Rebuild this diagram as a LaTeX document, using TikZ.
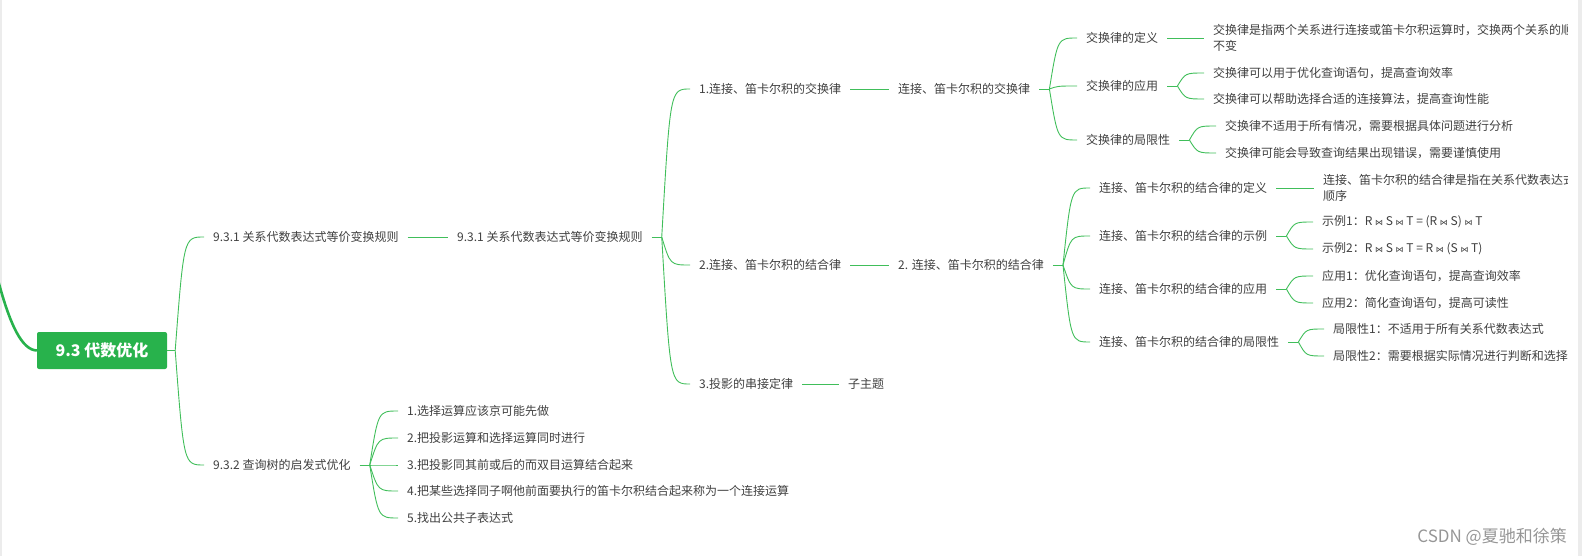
\documentclass[tikz,border=0pt]{standalone}
\usepackage{fontspec}
\setmainfont{Noto Sans CJK SC}
\newfontfamily\dejavu{DejaVu Sans}
\usetikzlibrary{calc}
\definecolor{lnk}{RGB}{64,190,90}
\definecolor{rootg}{RGB}{40,178,76}
\definecolor{txt}{RGB}{64,64,64}
\definecolor{edge}{RGB}{236,236,236}
\definecolor{wmark}{RGB}{150,150,150}
\newcommand\bowj{{\dejavu\fontsize{8}{8}\selectfont ⋈}}
\tikzset{
  t/.style={anchor=west, inner xsep=9pt, inner ysep=2pt, text=txt, font=\fontsize{12}{15.5}\selectfont},
  ln/.style={draw=lnk, line width=0.9pt},
  br/.style={to path={let \p1=(\tikztostart), \p2=(\tikztotarget) in .. controls ({\x1+0.3*(\x2-\x1)},{\y2}) .. (\tikztotarget)}},
}
\begin{document}
\begin{tikzpicture}[x=1pt,y=-1pt]
\useasboundingbox (0,0) rectangle (1582,556);
\fill[edge] (0,0) rectangle (2,556);
\fill[edge] (1578,0) rectangle (1582,556);
\begin{scope}
\clip (0,0) rectangle (1567,556);
% root
\node[fill=rootg, rounded corners=2pt, minimum width=130pt, minimum height=37pt, text=white, font=\fontsize{16}{16}\selectfont\bfseries, inner sep=0] (root) at (102,350.5) {9.3 代数优化};
\coordinate (top) at (-2,280);
\draw[draw=rootg, line width=2.6pt] (top) .. controls (10,325) and (22,350) .. (root.west);
% level 1
\node[t] (n931a) at (204,237) {9.3.1 关系代数表达式等价变换规则};
\node[t] (n932) at (204,465) {9.3.2 查询树的启发式优化};
\node[t] (n931b) at (448,237) {9.3.1 关系代数表达式等价变换规则};
% branch 1
\node[t] (n1) at (690,89) {1.连接、笛卡尔积的交换律};
\node[t] (n1b) at (889,89) {连接、笛卡尔积的交换律};
\node[t] (a1) at (1077,38) {交换律的定义};
\node[t, align=left] (a1c) at (1204,38) {交换律是指两个关系进行连接或笛卡尔积运算时，交换两个关系的顺\\不变};
\node[t] (a2) at (1077,86) {交换律的应用};
\node[t] (a2c1) at (1204,73) {交换律可以用于优化查询语句，提高查询效率};
\node[t] (a2c2) at (1204,99) {交换律可以帮助选择合适的连接算法，提高查询性能};
\node[t] (a3) at (1077,140) {交换律的局限性};
\node[t] (a3c1) at (1216,126) {交换律不适用于所有情况，需要根据具体问题进行分析};
\node[t] (a3c2) at (1216,153) {交换律可能会导致查询结果出现错误，需要谨慎使用};
% branch 2
\node[t] (n2) at (690,265) {2.连接、笛卡尔积的结合律};
\node[t] (n2b) at (889,265) {2. 连接、笛卡尔积的结合律};
\node[t] (b1) at (1090,188) {连接、笛卡尔积的结合律的定义};
\node[t, align=left] (b1c) at (1314,188) {连接、笛卡尔积的结合律是指在关系代数表达式\\顺序};
\node[t] (b2) at (1090,236) {连接、笛卡尔积的结合律的示例};
\node[t] (b2c1) at (1313,222) {示例1：R \bowj\ S \bowj\ T = (R \bowj\ S) \bowj\ T};
\node[t] (b2c2) at (1313,249) {示例2：R \bowj\ S \bowj\ T = R \bowj\ (S \bowj\ T)};
\node[t] (b3) at (1090,289) {连接、笛卡尔积的结合律的应用};
\node[t] (b3c1) at (1313,276) {应用1：优化查询语句，提高查询效率};
\node[t] (b3c2) at (1313,303) {应用2：简化查询语句，提高可读性};
\node[t] (b4) at (1090,342) {连接、笛卡尔积的结合律的局限性};
\node[t] (b4c1) at (1324,329) {局限性1：不适用于所有关系代数表达式};
\node[t] (b4c2) at (1324,356) {局限性2：需要根据实际情况进行判断和选择，};
% branch 3
\node[t] (n3) at (690,384) {3.投影的串接定律};
\node[t] (n3b) at (839,384) {子主题};
% 9.3.2 children
\node[t] (c1) at (398,411) {1.选择运算应该京可能先做};
\node[t] (c2) at (398,438) {2.把投影运算和选择运算同时进行};
\node[t] (c3) at (398,465) {3.把投影同其前或后的而双目运算结合起来};
\node[t] (c4) at (398,491) {4.把某些选择同子啊他前面要执行的笛卡尔积结合起来称为一个连接运算};
\node[t] (c5) at (398,518) {5.找出公共子表达式};
% straight links
\draw[ln] (n931a.east) -- (n931b.west);
\draw[ln] (n1.east) -- (n1b.west);
\draw[ln] (a1.east) -- (a1c.west);
\draw[ln] (n2.east) -- (n2b.west);
\draw[ln] (b1.east) -- (b1c.west);
\draw[ln] (n3.east) -- (n3b.west);
% junctions
\coordinate (jr) at ([xshift=8pt]root.east);
\coordinate (j931) at ([xshift=10pt]n931b.east);
\coordinate (j1) at ([xshift=10pt]n1b.east);
\coordinate (ja2) at ([xshift=10pt]a2.east);
\coordinate (ja3) at ([xshift=10pt]a3.east);
\coordinate (j2) at ([xshift=10pt]n2b.east);
\coordinate (jb2) at ([xshift=10pt]b2.east);
\coordinate (jb3) at ([xshift=10pt]b3.east);
\coordinate (jb4) at ([xshift=10pt]b4.east);
\coordinate (j932) at ([xshift=10pt]n932.east);
\draw[ln] (root.east) -- (jr);
\draw[ln] (n931b.east) -- (j931);
\draw[ln] (n1b.east) -- (j1);
\draw[ln] (a2.east) -- (ja2);
\draw[ln] (a3.east) -- (ja3);
\draw[ln] (n2b.east) -- (j2);
\draw[ln] (b2.east) -- (jb2);
\draw[ln] (b3.east) -- (jb3);
\draw[ln] (b4.east) -- (jb4);
\draw[ln] (n932.east) -- (j932);
% curved branches
\draw[ln] (jr) to[br] (n931a.west);
\draw[ln] (jr) to[br] (n932.west);
\draw[ln] (j931) to[br] (n1.west);
\draw[ln] (j931) to[br] (n2.west);
\draw[ln] (j931) to[br] (n3.west);
\draw[ln] (j1) to[br] (a1.west);
\draw[ln] (j1) to[br] (a2.west);
\draw[ln] (j1) to[br] (a3.west);
\draw[ln] (ja2) to[br] (a2c1.west);
\draw[ln] (ja2) to[br] (a2c2.west);
\draw[ln] (ja3) to[br] (a3c1.west);
\draw[ln] (ja3) to[br] (a3c2.west);
\draw[ln] (j2) to[br] (b1.west);
\draw[ln] (j2) to[br] (b2.west);
\draw[ln] (j2) to[br] (b3.west);
\draw[ln] (j2) to[br] (b4.west);
\draw[ln] (jb2) to[br] (b2c1.west);
\draw[ln] (jb2) to[br] (b2c2.west);
\draw[ln] (jb3) to[br] (b3c1.west);
\draw[ln] (jb3) to[br] (b3c2.west);
\draw[ln] (jb4) to[br] (b4c1.west);
\draw[ln] (jb4) to[br] (b4c2.west);
\draw[ln] (j932) to[br] (c1.west);
\draw[ln] (j932) to[br] (c2.west);
\draw[ln] (j932) to[br] (c3.west);
\draw[ln] (j932) to[br] (c4.west);
\draw[ln] (j932) to[br] (c5.west);
% watermark
\node[anchor=east, text=wmark, font=\fontsize{17}{17}\selectfont, inner sep=0] (wm) at (1567,537) {CSDN @夏驰和徐策};
\end{scope}
\end{tikzpicture}
\end{document}
